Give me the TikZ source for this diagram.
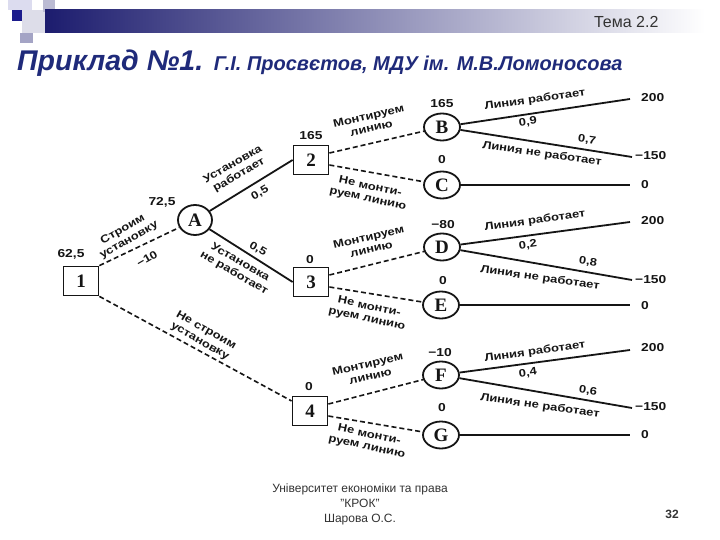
\documentclass[tikz,border=0pt]{standalone}
\usepackage{fontspec}
\setmainfont{Liberation Sans}
\newfontfamily\tf[FakeStretch=1.2]{Liberation Sans}
\newfontfamily\serifb{Liberation Serif}
\usetikzlibrary{shapes.geometric,calc}
\definecolor{navy}{HTML}{1F2A7A}
\definecolor{barnavy}{HTML}{1C1C6E}
\definecolor{sqpale}{HTML}{DCDCEF}
\definecolor{sqdark}{HTML}{1C1C8C}
\definecolor{ink}{HTML}{151515}
\definecolor{grayt}{HTML}{333333}
\tikzset{
  box/.style={draw=ink, line width=1.8pt, minimum width=35pt, minimum height=29pt, inner sep=0pt,
    font=\serifb\bfseries\fontsize{19}{19}\selectfont, text=ink},
  chance/.style={ellipse, draw=ink, line width=1.8pt, minimum width=36pt, minimum height=27pt, inner sep=0pt,
    font=\serifb\bfseries\fontsize{19}{19}\selectfont, text=ink},
  lab/.style={font=\tf\bfseries\fontsize{10.8}{12.3}\selectfont, align=center, inner sep=0pt, text=ink},
  num/.style={font=\tf\bfseries\fontsize{11.5}{12}\selectfont, inner sep=0pt, text=ink},
  sol/.style={draw=ink, line width=1.8pt},
  dsh/.style={draw=ink, line width=1.6pt, dash pattern=on 5pt off 3pt}
}
\begin{document}
\begin{tikzpicture}[x=1pt,y=-1pt]
\fill[white] (0,0) rectangle (720,540);
\useasboundingbox (0,0) rectangle (720,540);
% header decoration
\fill[sqpale] (8,0) rectangle (32,10);
\fill[white!85!barnavy] (22,10) rectangle (45,33);
\fill[white!70!barnavy] (43,0) rectangle (55,12);
\shade[left color=barnavy, right color=white] (45,10) rectangle (705,33);
\fill[sqdark] (12,10) rectangle (22,21);
\fill[white!60!barnavy] (20,33) rectangle (33,43);
\node[anchor=base east, font=\fontsize{16}{18}\selectfont, text=grayt] (tema) at (662,28) {Тема 2.2};
\node[anchor=base west, text=navy, inner sep=0pt] (title) at (17,71)
  {{\fontsize{28.5}{30}\selectfont\bfseries\itshape Приклад №1. }{\fontsize{20}{24}\selectfont\bfseries\itshape Г.І. Просвєтов, МДУ ім. М.В.Ломоносова}};
% tree nodes
\node[box] (n1) at (81,281) {1};
\node[chance, minimum width=34pt, minimum height=30pt] (A) at (195,220) {A};
\node[box] (n2) at (311,160) {2};
\node[chance] (B) at (442,127) {B};
\node[chance] (C) at (442,185) {C};
\node[box] (n3) at (311,282) {3};
\node[chance] (D) at (442,247) {D};
\node[chance] (E) at (441,305) {E};
\node[box] (n4) at (310,411) {4};
\node[chance] (F) at (441,375) {F};
\node[chance] (G) at (441,435) {G};
% terminal ends
\coordinate (b1) at (630,99);  \coordinate (b2) at (632,157); \coordinate (c1) at (630,185);
\coordinate (d1) at (630,222); \coordinate (d2) at (632,280); \coordinate (e1) at (630,305);
\coordinate (f1) at (630,350); \coordinate (f2) at (632,408); \coordinate (g1) at (630,435);
% connectors
\draw[dsh] (n1.north east) -- (A);
\draw[dsh] (n1.south east) -- (n4);
\draw[sol] (A) -- (n2.west);
\draw[sol] (A) -- (n3.west);
\draw[dsh] ($(n2.east)+(0,-7)$) -- (B);
\draw[dsh] ($(n2.east)+(0,5)$) -- (C);
\draw[dsh] ($(n3.east)+(0,-7)$) -- (D);
\draw[dsh] ($(n3.east)+(0,5)$) -- (E);
\draw[dsh] ($(n4.east)+(0,-7)$) -- (F);
\draw[dsh] ($(n4.east)+(0,5)$) -- (G);
\draw[sol] (B) -- (b1); \draw[sol] (B) -- (b2); \draw[sol] (C) -- (c1);
\draw[sol] (D) -- (d1); \draw[sol] (D) -- (d2); \draw[sol] (E) -- (e1);
\draw[sol] (F) -- (f1); \draw[sol] (F) -- (f2); \draw[sol] (G) -- (g1);
% node values
\node[num] (v1) at (71,254) {62,5};
\node[num] (vA) at (162,202) {72,5};
\node[num] (v2) at (311,136) {165};
\node[num] (vB) at (442,104) {165};
\node[num] (vC) at (442,160) {0};
\node[num] (v3) at (310,260) {0};
\node[num] (vD) at (443,225) {−80};
\node[num] (vE) at (443,281) {0};
\node[num] (v4) at (309,387) {0};
\node[num] (vF) at (440,353) {−10};
\node[num] (vG) at (442,408) {0};
% payoffs
\node[num, anchor=west] (p1) at (641,98) {200};
\node[num, anchor=west] (p2) at (635,156) {−150};
\node[num, anchor=west] (p3) at (641,185) {0};
\node[num, anchor=west] (p4) at (641,221) {200};
\node[num, anchor=west] (p5) at (635,280) {−150};
\node[num, anchor=west] (p6) at (641,306) {0};
\node[num, anchor=west] (p7) at (641,348) {200};
\node[num, anchor=west] (p8) at (635,407) {−150};
\node[num, anchor=west] (p9) at (641,435) {0};
% branch labels (left)
\node[lab, rotate=30] (l1) at (126,235) {Строим\\установку};
\node[lab, rotate=30] (l1b) at (147,259) {−10};
\node[lab, rotate=30] (l2) at (236,170) {Установка\\работает};
\node[lab, rotate=30] (l2b) at (260,193) {0,5};
\node[lab, rotate=-30] (l3b) at (258,249) {0,5};
\node[lab, rotate=-30] (l3) at (237,268) {Установка\\не работает};
\node[lab, rotate=-30] (l4) at (203,336) {Не строим\\установку};
% middle labels
\node[lab, rotate=13] (m1) at (370,122) {Монтируем\\линию};
\node[lab, rotate=-12] (m2) at (369,193) {Не монти-\\руем линию};
\node[lab, rotate=13] (m3) at (370,243) {Монтируем\\линию};
\node[lab, rotate=-12] (m4) at (368,313) {Не монти-\\руем линию};
\node[lab, rotate=13] (m5) at (369,370) {Монтируем\\линию};
\node[lab, rotate=-12] (m6) at (368,441) {Не монти-\\руем линию};
% right labels
\node[lab, rotate=8] (r1) at (535,100) {Линия работает};
\node[lab, rotate=8] (r1p) at (528,122) {0,9};
\node[lab, rotate=-8] (r2p) at (587,140) {0,7};
\node[lab, rotate=-8] (r2) at (542,154) {Линия не работает};
\node[lab, rotate=8] (r3) at (535,221) {Линия работает};
\node[lab, rotate=8] (r3p) at (528,245) {0,2};
\node[lab, rotate=-8] (r4p) at (588,262) {0,8};
\node[lab, rotate=-8] (r4) at (540,278) {Линия не работает};
\node[lab, rotate=8] (r5) at (535,352) {Линия работает};
\node[lab, rotate=8] (r5p) at (528,373) {0,4};
\node[lab, rotate=-8] (r6p) at (588,391) {0,6};
\node[lab, rotate=-8] (r6) at (540,406) {Линия не работает};
% footer
\node[align=center, font=\fontsize{12}{15}\selectfont, text=grayt] (foot) at (360,504)
  {Університет економіки та права\\"КРОК"\\Шарова О.С.};
\node[font=\bfseries\fontsize{12}{14}\selectfont, text=grayt] (page) at (672,514) {32};
\end{tikzpicture}
\end{document}
